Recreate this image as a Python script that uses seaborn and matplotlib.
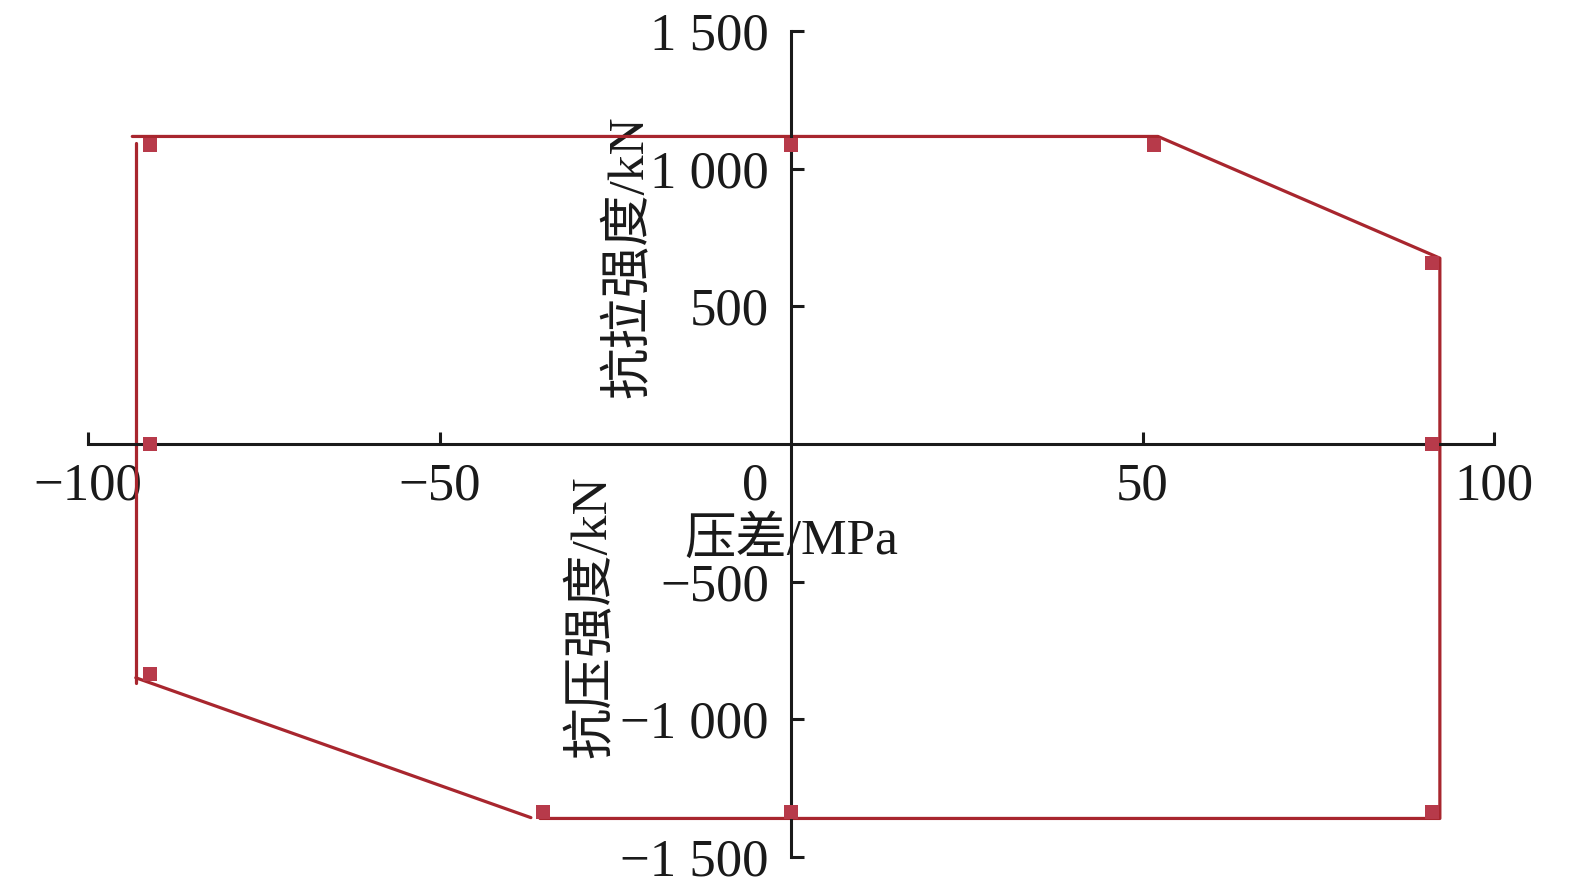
import pandas as pd
import matplotlib
matplotlib.use("Agg")
import matplotlib.pyplot as plt
import seaborn as sns

# boundary line, drawn as three separate pieces (like the original)
seg_ids = [1, 1, 1, 1, 1, 2, 2, 3, 3]
bound_x = [-93.7, 52.2, 92.3, 92.3, -35.7, -37.0, -93.2, -93.2, -93.2]
bound_y = [1117, 1117, 675, -1360, -1360, -1357, -849, -867, 1092]

# measured points
pts_x = [-91.2, 0, 51.6, 91.2, 91.2, 91.2, 0, -35.3, -91.2, -91.2]
pts_y = [1085, 1085, 1085, 657, 0, -1338, -1338, -1338, -834, 0]

x_ticks = [-100, -50, 50, 100]
x_labels = ["\u2212100", "\u221250", "50", "100"]
y_ticks = [-1500, -1000, -500, 500, 1000, 1500]
y_labels = ["\u22121 500", "\u22121 000", "\u2212500", "500", "1 000", "1 500"]

sns.set_theme(style="white")
plt.rcParams["font.family"] = ["Liberation Serif", "Noto Sans CJK SC"]
plt.rcParams["axes.unicode_minus"] = False

fig = plt.figure(figsize=(15.75, 8.96), dpi=100)
ax = fig.add_axes([88 / 1575, 1 - 857 / 896, 1406 / 1575, 826 / 896])

line_df = pd.DataFrame({"x": bound_x, "y": bound_y, "seg": seg_ids})
sns.lineplot(data=line_df, x="x", y="y", units="seg", estimator=None, sort=False,
             color="#A8262E", lw=2.3, ax=ax)

pts_df = pd.DataFrame({"x": pts_x, "y": pts_y})
sns.scatterplot(data=pts_df, x="x", y="y", marker="s", s=100, color="#B73A4A",
                linewidth=0, ax=ax, zorder=5)

ax.set_xlim(-100, 100)
ax.set_ylim(-1500, 1500)

for side in ["top", "right"]:
    ax.spines[side].set_visible(False)
for side in ["left", "bottom"]:
    ax.spines[side].set_position(("data", 0))
    ax.spines[side].set_color("#1a1a1a")
    ax.spines[side].set_linewidth(2.2)
    ax.spines[side].set_zorder(3)

ax.set_xticks(x_ticks)
ax.set_xticklabels(x_labels)
ax.set_yticks(y_ticks)
ax.set_yticklabels(y_labels)
ax.tick_params(axis="both", direction="in", length=9, width=2.2, color="#1a1a1a",
               labelsize=38, labelcolor="#1a1a1a", bottom=True, left=True)
ax.tick_params(axis="x", pad=13)
ax.tick_params(axis="y", pad=16)

# shared origin label
ax.annotate("0", xy=(0, 0), xytext=(-16, -13), textcoords="offset points",
            ha="right", va="top", fontsize=38, color="#1a1a1a")

ax.set_xlabel("压差/MPa", fontsize=37, color="#1a1a1a")
ax.xaxis.set_label_coords(0.5, (857 - 517) / 826)
ax.set_ylabel("抗拉强度/kN", fontsize=37, color="#1a1a1a")
ax.yaxis.set_label_coords((654 - 88) / 1406, (857 - 257) / 826)

ax.text(-28.2, -627, "抗压强度/kN", rotation=90, ha="center", va="center",
        fontsize=37, color="#1a1a1a")

fig.savefig("out.png", dpi=100)
